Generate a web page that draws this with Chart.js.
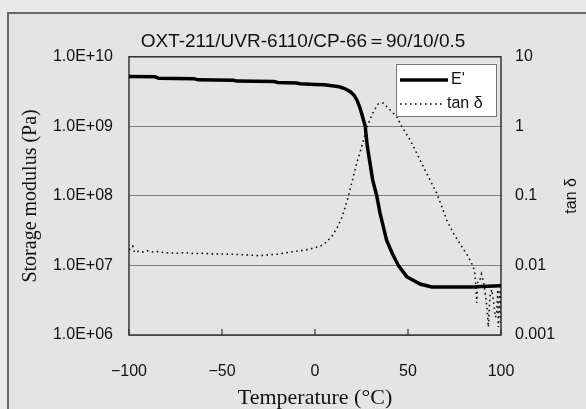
<!DOCTYPE html>
<html>
<head>
<meta charset="utf-8">
<script src="https://cdn.jsdelivr.net/npm/chart.js@4.4.1/dist/chart.umd.min.js"></script>
<style>
  html, body { margin: 0; padding: 0; background: #e8e8e8; }
  canvas { display: block; }
</style>
</head>
<body>
<canvas id="dmaChart" width="586" height="409"></canvas>
<script>
const titleText = 'OXT-211/UVR-6110/CP-66＝90/10/0.5';
const rightTitle = 'tan δ';

const xTicks = [-100, -50, 0, 50, 100];
const xTickLabels = ['−100', '−50', '0', '50', '100'];
const leftTicks = [1e6, 1e7, 1e8, 1e9, 1e10];
const leftTickLabels = ['1.0E+06', '1.0E+07', '1.0E+08', '1.0E+09', '1.0E+10'];
const rightTicks = [0.001, 0.01, 0.1, 1, 10];
const rightTickLabels = ['0.001', '0.01', '0.1', '1', '10'];

// storage modulus E' (Pa)
const modTemps = [-100, -86, -84, -65, -63, -44, -42, -22, -20, -10, -8, 0, 5, 10, 13, 16, 19, 21, 22.5, 24, 25,
  27, 28.1, 31, 33.2, 35, 38.5, 41.5, 44.8, 49.3, 56.5, 62.7, 85, 89, 100];
const modValues = [5.2e9, 5.15e9, 4.9e9, 4.85e9, 4.67e9, 4.6e9, 4.47e9, 4.4e9, 4.27e9, 4.2e9, 4.1e9, 4.0e9, 3.95e9,
  3.8e9, 3.7e9, 3.5e9, 3.15e9, 2.8e9, 2.4e9, 1.9e9, 1.55e9,
  1.0e9, 5.2e8, 1.7e8, 1.0e8, 5.6e7, 2.3e7, 1.5e7, 1.0e7, 6.9e6, 5.4e6, 4.9e6, 4.9e6, 5.0e6, 5.1e6];

// tan delta
const tanTemps = [-100, -98, -97, -95, -92, -90, -87, -85, -80, -74, -70, -65, -60, -56, -50, -45, -40, -35, -30,
  -25, -20, -15, -10, -5, 0, 3, 5.4, 9, 11.7, 14.3, 16.1, 17.9, 19.7, 22.4, 25.1, 28.1, 31.4, 34, 36.7, 40.3,
  43.9, 46.6, 51.1, 54.7, 58.2, 61.8, 65.4, 68.1, 70.8, 74.4, 78.9, 82.4, 85.1, 86, 87, 87.5, 88.7, 89.5, 90.5,
  91.5, 92.5, 93.2, 94, 95, 96, 97, 97.7, 98.3, 98.6, 99.2, 99.6, 100];
const tanValues = [0.0167, 0.019, 0.0153, 0.016, 0.0155, 0.0162, 0.0156, 0.0158, 0.0152, 0.015, 0.0153, 0.0148,
  0.015, 0.0147, 0.0146, 0.0145, 0.0143, 0.0141, 0.0138, 0.0142, 0.0145, 0.0153, 0.016, 0.0167, 0.018, 0.019,
  0.021, 0.026, 0.034, 0.048, 0.067, 0.098, 0.152, 0.295, 0.51, 1.0, 1.63, 2.1, 2.16, 1.73, 1.38, 1.0, 0.64,
  0.41, 0.264, 0.17, 0.11, 0.071, 0.045, 0.029, 0.0187, 0.0134, 0.0096, 0.0075, 0.0029, 0.006, 0.0062, 0.0075,
  0.006, 0.004, 0.0025, 0.0013, 0.0035, 0.0045, 0.003, 0.0018, 0.002, 0.0045, 0.0013, 0.003, 0.0045, 0.0015];

const sans = 'Liberation Sans, Arial, sans-serif';
const serif = 'Liberation Serif, Times New Roman, serif';

// grey frame behind everything, plot box and inner ticks
const framePlugin = {
  id: 'frame',
  beforeDraw(chart) {
    const ctx = chart.ctx;
    ctx.save();
    ctx.fillStyle = '#e9e9e9';
    ctx.fillRect(0, 0, chart.width, chart.height);
    ctx.fillStyle = '#e4e4e4';
    ctx.fillRect(8, 13, chart.width, chart.height);
    ctx.strokeStyle = '#666';
    ctx.lineWidth = 2;
    ctx.beginPath();
    ctx.moveTo(8, chart.height);
    ctx.lineTo(8, 13);
    ctx.lineTo(chart.width, 13);
    ctx.stroke();
    ctx.restore();
  },
  beforeDatasetsDraw(chart) {
    const {ctx, chartArea: a, scales} = chart;
    ctx.save();
    ctx.strokeStyle = '#333';
    ctx.lineWidth = 1.5;
    ctx.strokeRect(a.left, a.top, a.right - a.left, a.bottom - a.top);
    ctx.lineWidth = 1.2;
    xTicks.forEach(t => {
      const px = scales.x.getPixelForValue(t);
      ctx.beginPath();
      ctx.moveTo(px, a.bottom);
      ctx.lineTo(px, a.bottom - 6);
      ctx.stroke();
    });
    // right axis title, reading bottom to top
    const y2 = scales.y2;
    ctx.fillStyle = '#111';
    ctx.font = '16px ' + sans;
    ctx.textAlign = 'center';
    ctx.textBaseline = 'middle';
    ctx.translate(572, (y2.top + y2.bottom) / 2);
    ctx.rotate(-Math.PI / 2);
    ctx.fillText(rightTitle, 0, 0);
    ctx.restore();
  }
};

const legendPlugin = {
  id: 'boxLegend',
  afterDraw(chart) {
    const ctx = chart.ctx;
    ctx.save();
    ctx.fillStyle = '#fff';
    ctx.fillRect(396, 64, 101, 53);
    ctx.strokeStyle = '#777';
    ctx.lineWidth = 1;
    ctx.strokeRect(396.5, 64.5, 100, 52);
    ctx.strokeStyle = '#000';
    ctx.lineWidth = 3.5;
    ctx.beginPath();
    ctx.moveTo(400, 80);
    ctx.lineTo(448, 80);
    ctx.stroke();
    ctx.lineWidth = 1.6;
    ctx.setLineDash([1.6, 3.4]);
    ctx.beginPath();
    ctx.moveTo(400, 104);
    ctx.lineTo(444, 104);
    ctx.stroke();
    ctx.setLineDash([]);
    ctx.fillStyle = '#111';
    ctx.font = '16px ' + sans;
    ctx.textBaseline = 'middle';
    ctx.fillText("E'", 451, 80);
    ctx.fillText('tan δ', 447, 104);
    ctx.restore();
  }
};

new Chart(document.getElementById('dmaChart'), {
  type: 'line',
  data: {
    datasets: [{
      label: "E'",
      data: modTemps.map((t, i) => ({x: t, y: modValues[i]})),
      yAxisID: 'y',
      borderColor: '#000',
      borderWidth: 3.5,
      pointRadius: 0,
      tension: 0
    }, {
      label: 'tan δ',
      data: tanTemps.map((t, i) => ({x: t, y: tanValues[i]})),
      yAxisID: 'y2',
      borderColor: '#111',
      borderWidth: 1.6,
      borderDash: [1.6, 3.4],
      pointRadius: 0,
      tension: 0
    }]
  },
  options: {
    responsive: false,
    animation: false,
    devicePixelRatio: 1,
    layout: {
      padding: {left: 20, right: 0, top: 0, bottom: 0}
    },
    plugins: {
      legend: {display: false},
      tooltip: {enabled: false},
      title: {
        display: true,
        text: titleText,
        color: '#111',
        font: {family: sans, size: 19, weight: 'normal'},
        padding: {top: 30, bottom: 4}
      }
    },
    scales: {
      x: {
        type: 'linear',
        min: -100,
        max: 100,
        grid: {display: false},
        border: {display: false},
        afterBuildTicks: scale => { scale.ticks = xTicks.map(v => ({value: v})); },
        afterFit: scale => { scale.height = 74; },
        ticks: {
          color: '#111',
          padding: 19,
          maxRotation: 0,
          font: {family: sans, size: 16},
          callback: (v, i) => xTickLabels[i]
        },
        title: {
          display: true,
          text: 'Temperature (°C)',
          color: '#111',
          font: {family: serif, size: 22, lineHeight: 1.0},
          padding: {top: 0, bottom: 0}
        }
      },
      y: {
        type: 'logarithmic',
        position: 'left',
        min: 1e6,
        max: 1e10,
        grid: {color: '#7f7f7f', lineWidth: 1, drawTicks: false},
        border: {display: false},
        afterBuildTicks: scale => { scale.ticks = leftTicks.map(v => ({value: v})); },
        afterFit: scale => { scale.width = 109; },
        ticks: {
          color: '#111',
          padding: 16,
          font: {family: sans, size: 16},
          callback: (v, i) => leftTickLabels[i]
        },
        title: {
          display: true,
          text: 'Storage modulus (Pa)',
          color: '#111',
          font: {family: serif, size: 20, lineHeight: 1.1},
          padding: {top: 0, bottom: 0}
        }
      },
      y2: {
        type: 'logarithmic',
        position: 'right',
        min: 0.001,
        max: 10,
        grid: {drawOnChartArea: false, drawTicks: false},
        border: {display: false},
        afterBuildTicks: scale => { scale.ticks = rightTicks.map(v => ({value: v})); },
        afterFit: scale => { scale.width = 85; },
        ticks: {
          color: '#111',
          padding: 14,
          font: {family: sans, size: 16},
          callback: (v, i) => rightTickLabels[i]
        }
      }
    }
  },
  plugins: [framePlugin, legendPlugin]
});
</script>
</body>
</html>
